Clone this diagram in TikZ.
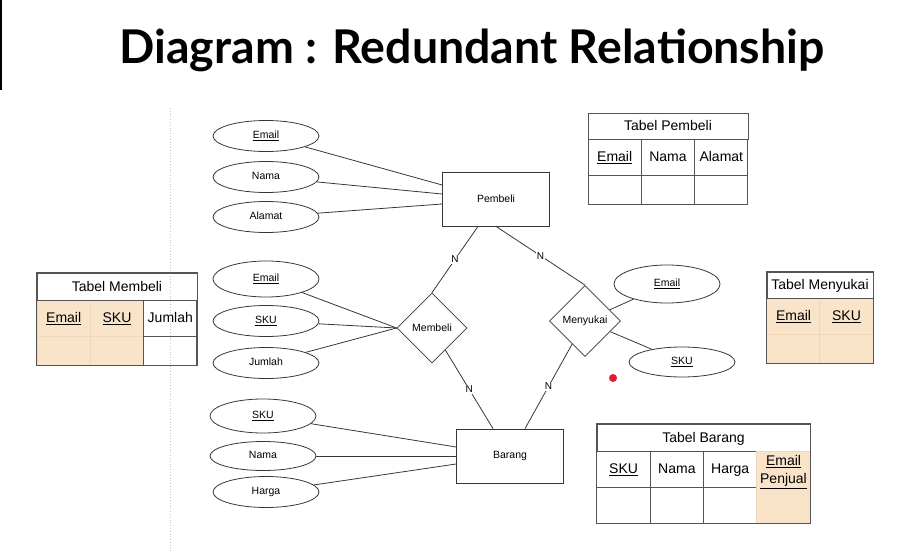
\documentclass[tikz,border=0pt]{standalone}
\usepackage{fontspec}
\setmainfont{Liberation Sans}
\newfontfamily\titlefont{Lato}
\usepackage{tikz}
\usetikzlibrary{shapes.geometric}

\definecolor{ink}{RGB}{55,55,55}
\definecolor{tabink}{RGB}{85,85,85}
\definecolor{peach}{RGB}{250,228,201}
\definecolor{peachline}{RGB}{238,214,186}
\definecolor{dotred}{RGB}{226,28,52}

\begin{document}
\begin{tikzpicture}[x=1pt,y=-1pt,
  attr/.style={ellipse,draw=ink,line width=0.8pt,minimum width=106pt,minimum height=31pt,inner sep=0pt,text height=8pt,text depth=2.5pt,font=\fontsize{10.5}{12}\selectfont},
  ent/.style={rectangle,draw=ink,line width=0.8pt,minimum width=107pt,minimum height=54pt,font=\fontsize{10.5}{12}\selectfont},
  rel/.style={diamond,draw=ink,line width=0.8pt,minimum width=70pt,minimum height=70pt,inner sep=0pt,font=\fontsize{10.5}{12}\selectfont},
  link/.style={draw=ink,line width=0.8pt},
  card/.style={fill=white,inner sep=1pt,font=\fontsize{10}{12}\selectfont},
  cell/.style={rectangle,draw=tabink,line width=1pt,minimum width=53.3pt,minimum height=36pt,inner sep=0pt,text height=11pt,text depth=1.5pt,font=\fontsize{14}{16}\selectfont},
  pcell/.style={cell,draw=peachline,fill=peach},
  frame/.style={draw=tabink,line width=1pt}]
  \useasboundingbox (0,0) rectangle (908,551);
  \fill[black] (0,0) rectangle (2,90);
  \node[font=\titlefont\bfseries\fontsize{46.5}{52}\selectfont,anchor=base] (title) at (472,64) {Diagram : Redundant Relationship};
  \draw[gray!45,dotted,line width=0.8pt] (170,108) -- (170,551);

  % entities and relationships
  \node[ent] (pembeli) at (496,199) {Pembeli};
  \node[ent] (barang) at (510,456) {Barang};
  \node[rel] (membeli) at (432,328) {Membeli};
  \node[rel,minimum width=71pt,minimum height=71pt] (menyukai) at (585,321) {Menyukai};

  % attributes
  \node[attr] (pEmail) at (266,136) {\underline{Email}};
  \node[attr] (pNama) at (266,177) {Nama};
  \node[attr] (pAlamat) at (266,217) {Alamat};
  \node[attr,minimum height=36pt] (mEmail) at (266,279) {\underline{Email}};
  \node[attr] (mSKU) at (266,321) {\underline{SKU}};
  \node[attr] (mJumlah) at (266,363) {Jumlah};
  \node[attr,minimum height=34pt] (bSKU) at (263,416) {\underline{SKU}};
  \node[attr,minimum height=29pt] (bNama) at (263,456) {Nama};
  \node[attr] (bHarga) at (266,492) {Harga};
  \node[attr,minimum height=38pt] (sEmail) at (667,284) {\underline{Email}};
  \node[attr,minimum height=30pt] (sSKU) at (682,362) {\underline{SKU}};

  \draw[link] (pEmail) -- ([yshift=14pt]pembeli.west);
  \draw[link] (pNama) -- ([yshift=5pt]pembeli.west);
  \draw[link] (pAlamat) -- ([yshift=-5pt]pembeli.west);
  \draw[link] (mEmail) -- (membeli.west);
  \draw[link] (mSKU) -- (membeli.west);
  \draw[link] (mJumlah) -- (membeli.west);
  \draw[link] (bSKU) -- ([yshift=9pt]barang.west);
  \draw[link] (bNama) -- (barang.west);
  \draw[link] (bHarga) -- ([yshift=-8pt]barang.west);
  \draw[link] (menyukai) -- (sEmail);
  \draw[link] (menyukai) -- (sSKU);

  \draw[link] ([xshift=-18pt]pembeli.south) -- node[card] {N} (membeli.north);
  \draw[link] (pembeli.south) -- node[card] {N} (menyukai.north);
  \draw[link] (membeli) -- node[card] {N} ([xshift=-17pt]barang.north);
  \draw[link] (menyukai) -- node[card] {N} ([xshift=15pt]barang.north);

  \fill[dotred] (613,378) circle (4pt);

  % Tabel Pembeli
  \node[cell,minimum width=160pt,minimum height=26pt] (tpHead) at (668,126) {Tabel Pembeli};
  \node[cell] (tp1) at (614.7,157) {\underline{Email}};
  \node[cell] (tp2) at (668,157) {Nama};
  \node[cell] (tp3) at (721.3,157) {Alamat};
  \node[cell,minimum height=29pt] (tp4) at (614.7,189.5) {};
  \node[cell,minimum height=29pt] (tp5) at (668,189.5) {};
  \node[cell,minimum height=29pt] (tp6) at (721.3,189.5) {};

  % Tabel Membeli
  \node[pcell] (tm1) at (63.7,318) {\underline{Email}};
  \node[pcell] (tm2) at (117,318) {\underline{SKU}};
  \node[pcell,minimum height=29pt] (tm4) at (63.7,350.5) {};
  \node[pcell,minimum height=29pt] (tm5) at (117,350.5) {};
  \node[cell] (tm3) at (170.3,318) {Jumlah};
  \node[cell,minimum height=29pt] (tm6) at (170.3,350.5) {};
  \node[cell,minimum width=160pt,minimum height=27pt] (tmHead) at (117,286.5) {Tabel Membeli};
  \draw[frame] (tmHead.north west) rectangle (tm6.south east);

  % Tabel Menyukai
  \node[pcell] (ts1) at (793.5,316) {\underline{Email}};
  \node[pcell] (ts2) at (846.5,316) {\underline{SKU}};
  \node[pcell,minimum height=29pt] (ts3) at (793.5,348.5) {};
  \node[pcell,minimum height=29pt] (ts4) at (846.5,348.5) {};
  \node[cell,minimum width=106pt,minimum height=26pt] (tsHead) at (820,285) {Tabel Menyukai};
  \draw[frame] (tsHead.north west) rectangle (ts4.south east);

  % Tabel Barang
  \node[cell,minimum width=213pt,minimum height=27pt] (tbHead) at (703.5,437.5) {Tabel Barang};
  \node[cell] (tb1) at (623.6,469) {\underline{SKU}};
  \node[cell] (tb2) at (676.9,469) {Nama};
  \node[cell] (tb3) at (730.2,469) {Harga};
  \node[cell] (tb5) at (623.6,505) {};
  \node[cell] (tb6) at (676.9,505) {};
  \node[cell] (tb7) at (730.2,505) {};
  \node[pcell,minimum height=72pt] (tb4) at (783.5,487) {};
  \node[anchor=north,align=center,inner sep=0pt,font=\fontsize{14}{18}\selectfont] (tb4text) at (783.5,455.5) {\underline{Email}\\\underline{Penjual}};
  \draw[frame] (tbHead.north west) rectangle (tb4.south east);
\end{tikzpicture}
\end{document}
